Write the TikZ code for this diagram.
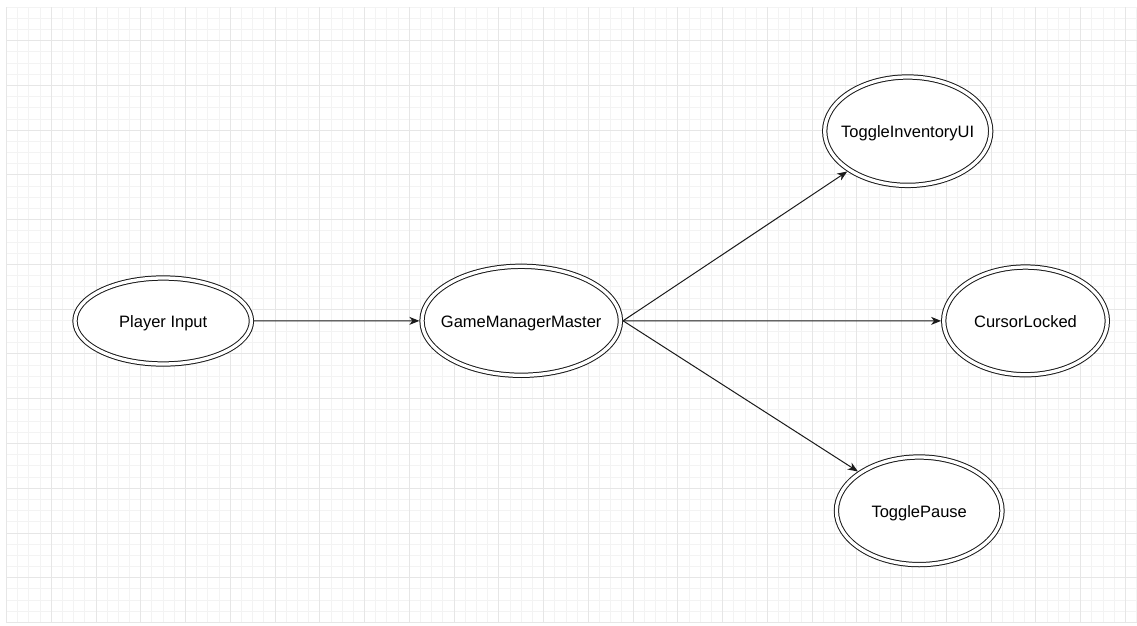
\documentclass[tikz,border=0pt]{standalone}
\usepackage{fontspec}
\setmainfont{Liberation Sans}
\usetikzlibrary{arrows.meta,shapes.geometric}
\definecolor{gridminor}{HTML}{F3F3F3}
\definecolor{gridmajor}{HTML}{E6E6E6}
\definecolor{ink}{HTML}{1A1A1A}
\newcommand{\ctxt}[1]{\makebox[0pt]{#1}}
\tikzset{
  dell/.style={ellipse, draw=ink, fill=white, line width=1pt, double=white,
    double distance=3.3pt, outer sep=2.65pt, inner sep=0pt,
    font=\fontsize{16.5}{18}\selectfont, text height=13pt, text depth=0pt},
  flow/.style={draw=ink, line width=1pt, -{Stealth[length=10pt,width=8pt,inset=3pt]}},
  gminor/.style={draw=gridminor, line width=1pt},
  gmajor/.style={draw=gridmajor, line width=1pt}
}
\begin{document}
\begin{tikzpicture}[x=1pt,y=-1pt]
\useasboundingbox (0,0) rectangle (1137,626);
\fill[white] (0,0) rectangle (1137,626);
% grid
\foreach \i in {0,...,101} {\draw[gminor] ({6.5+11.19*\i},7.1) -- ({6.5+11.19*\i},622.8);}
\foreach \j in {0,...,55} {\draw[gminor] (6.5,{7.1+11.19*\j}) -- (1137,{7.1+11.19*\j});}
\foreach \i in {0,...,25} {\draw[gmajor] ({6.5+44.76*\i},7.1) -- ({6.5+44.76*\i},622.8);}
\foreach \j in {0,...,13} {\draw[gmajor] (6.5,{40.67+44.76*\j}) -- (1137,{40.67+44.76*\j});}
% nodes
\node[dell, minimum width=176.4pt, minimum height=86pt] (pi) at (163.2,321) {\ctxt{Player Input}};
\node[dell, minimum width=198.4pt, minimum height=109pt] (gmm) at (521.2,320.8) {\ctxt{GameManagerMaster}};
\node[dell, minimum width=166pt, minimum height=108.4pt] (tiu) at (907.7,131.2) {\ctxt{ToggleInventoryUI}};
\node[dell, minimum width=163.6pt, minimum height=107.7pt] (cl) at (1025.5,320.9) {\ctxt{CursorLocked}};
\node[dell, minimum width=165.6pt, minimum height=107.6pt] (tp) at (919.2,510.8) {\ctxt{TogglePause}};
% edges
\draw[flow] (pi) -- (gmm);
\draw[flow] (gmm.east) -- (cl);
\draw[flow] (gmm.east) -- (tiu);
\draw[flow] (gmm.east) -- (tp);
\end{tikzpicture}
\end{document}
